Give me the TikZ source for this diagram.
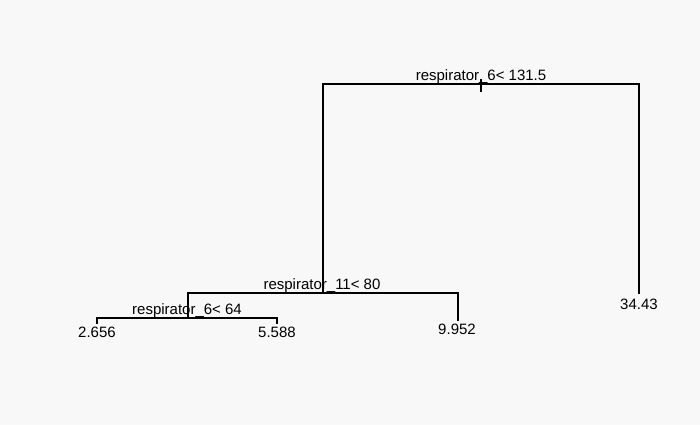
\documentclass[tikz,border=0pt]{standalone}
\usepackage{fontspec}
\setmainfont{Liberation Sans}
\usetikzlibrary{positioning}
\definecolor{paper}{RGB}{248,248,248}

\begin{document}
\begin{tikzpicture}[x=1pt, y=1pt,
    branch/.style={line width=1.2pt, line cap=rect},
    txt/.style={font=\fontsize{15}{18}\selectfont, inner sep=0pt, anchor=base}]
    \fill[paper] (0,0) rectangle (700,425);
    \useasboundingbox (0,0) rectangle (700,425);
    % joints of the tree
    \coordinate (rtop) at (481,345);
    \coordinate (rbot) at (481,334);
    \coordinate (A) at (323,341);
    \coordinate (B) at (639,341);
    \coordinate (Bleaf) at (639,132);
    \coordinate (C) at (323,132);
    \coordinate (Cl) at (188,132);
    \coordinate (Cr) at (458,132);
    \coordinate (Crleaf) at (458,105);
    \coordinate (D) at (188,107);
    \coordinate (Dl) at (97,107);
    \coordinate (Dr) at (277,107);
    \coordinate (Dlleaf) at (97,102);
    \coordinate (Drleaf) at (277,102);
    % splits
    \draw[branch] (rtop) -- (rbot);
    \draw[branch] (Bleaf) -- (B) -- (A) -- (C);
    \draw[branch] (Crleaf) -- (Cr) -- (Cl) -- (D);
    \draw[branch] (Dlleaf) -- (Dl) -- (Dr) -- (Drleaf);
    % labels
    \node[txt] (s1) at (481,344) {respirator\_6< 131.5};
    \node[txt] (s2) at (322,135) {respirator\_11< 80};
    \node[txt] (s3) at (187,110) {respirator\_6< 64};
    \node[txt] (l1) at (97,87) {2.656};
    \node[txt] (l2) at (277,87) {5.588};
    \node[txt] (l3) at (457,90) {9.952};
    \node[txt] (l4) at (639,115) {34.43};
\end{tikzpicture}
\end{document}
